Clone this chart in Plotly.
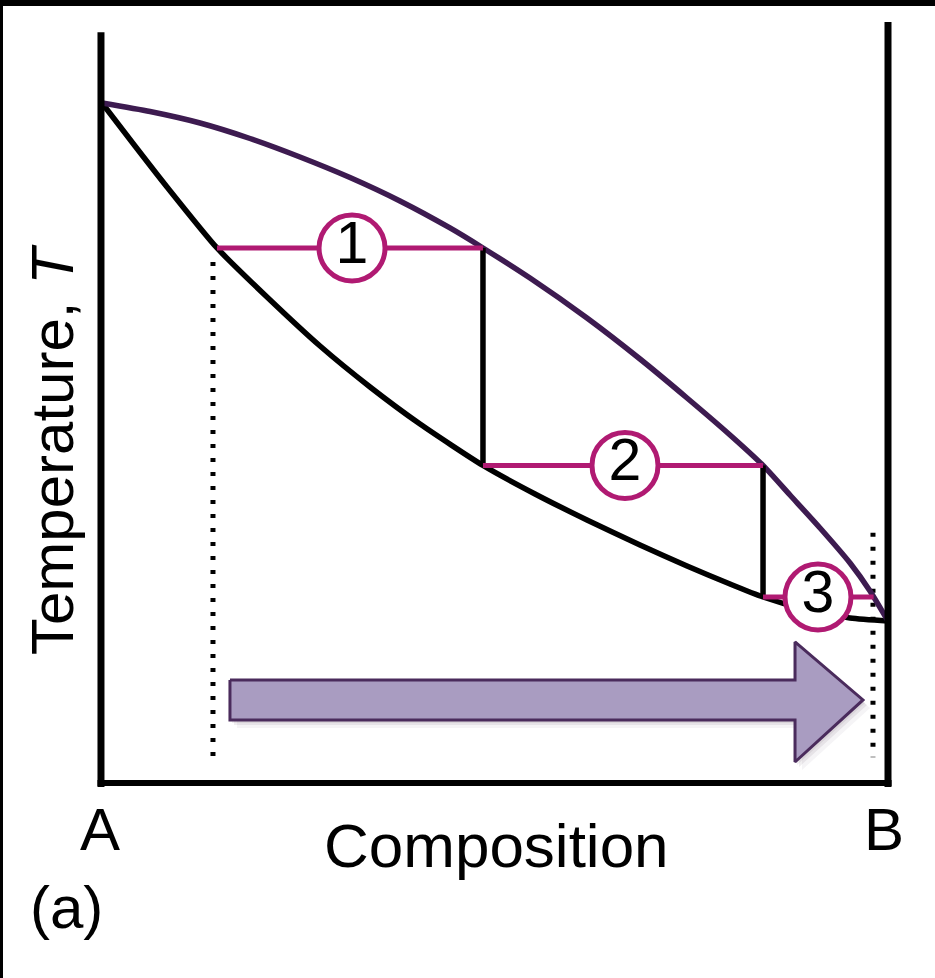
import plotly.graph_objects as go

# ---- data (composition in % B: A=0 .. B=100, temperature in arbitrary units) ----
upper_x = [0.0, 6.11, 12.47, 18.83, 25.19, 31.55, 37.91, 44.27, 48.47, 54.45, 61.70,
           68.45, 74.43, 79.90, 84.10, 87.53, 91.35, 95.17, 97.71, 100.0]
upper_T = [100.0, 98.75, 97.06, 94.78, 92.06, 89.04, 85.59, 81.62, 78.68, 74.26, 68.38,
           62.35, 56.62, 51.18, 46.70, 42.35, 37.50, 32.35, 28.24, 23.82]

lower_x = [0.0, 4.20, 8.27, 14.63, 20.99, 27.74, 34.10, 40.46, 48.47, 55.09, 61.70,
           68.45, 74.43, 79.90, 84.10, 88.80, 95.17, 100.0]
lower_T = [100.0, 93.68, 87.65, 78.68, 71.47, 64.26, 58.24, 52.79, 46.70, 42.50, 38.68,
           35.00, 31.91, 29.26, 27.35, 25.74, 24.26, 23.82]

tie_labels = ["1", "2", "3"]
tie_T = [78.68, 46.70, 27.35]
tie_x0 = [14.63, 48.47, 84.10]
tie_x1 = [48.47, 84.10, 98.17]
tie_circle_x = [31.81, 66.54, 91.09]

step_x = [48.47, 84.10]
step_T0 = [78.68, 46.70]
step_T1 = [46.70, 27.35]

dotted_x = [14.12, 98.09]
dotted_T0 = [76.6, 36.8]
dotted_T1 = [3.1, 3.8]

arrow_x = [16.28, 88.17, 88.17, 96.82, 88.17, 88.17, 16.28, 16.28]
arrow_T = [15.15, 15.15, 20.74, 12.21, 3.09, 9.26, 9.26, 15.15]

axis_top_left = 110.4
axis_top_right = 111.9

x_label = "Composition"
y_label = "Temperature, <i>T</i>"
end_labels = ["A", "B"]
end_label_x = [-0.25, 99.49]
panel_label = "(a)"

# ---- styles ----
PX_X = 7.86    # pixels per composition %
PX_T = 6.8     # pixels per temperature unit
MAGENTA = "#b01a72"
PURPLE = "#3d1b50"
FONT = "Liberation Sans, Arial, sans-serif"

fig = go.Figure()

# arrow shadow
for (dx, dy, a) in [(7, 8, 0.05), (4, 5, 0.08), (2, 3, 0.08)]:
    fig.add_trace(go.Scatter(
        x=[v + dx / PX_X for v in arrow_x], y=[v - dy / PX_T for v in arrow_T],
        mode="lines", fill="toself", fillcolor=f"rgba(60,40,70,{a})",
        line=dict(width=0), hoverinfo="skip", showlegend=False))
# arrow
fig.add_trace(go.Scatter(x=arrow_x, y=arrow_T, mode="lines", fill="toself",
                         fillcolor="#a99cc1", line=dict(color="#4a2b5c", width=3),
                         hoverinfo="skip", showlegend=False))

# dotted guide lines
for xv, t0, t1 in zip(dotted_x, dotted_T0, dotted_T1):
    fig.add_trace(go.Scatter(x=[xv, xv], y=[t0, t1], mode="lines",
                             line=dict(color="black", width=5, dash="4px,10px"),
                             hoverinfo="skip", showlegend=False))

# curves
fig.add_trace(go.Scatter(x=lower_x, y=lower_T, mode="lines",
                         line=dict(color="black", width=5.5, shape="spline", smoothing=0.6),
                         hoverinfo="skip", showlegend=False))
fig.add_trace(go.Scatter(x=upper_x, y=upper_T, mode="lines",
                         line=dict(color=PURPLE, width=5.5, shape="spline", smoothing=0.6),
                         hoverinfo="skip", showlegend=False))

# vertical steps
for xv, t0, t1 in zip(step_x, step_T0, step_T1):
    fig.add_trace(go.Scatter(x=[xv, xv], y=[t0, t1], mode="lines",
                             line=dict(color="black", width=5.5),
                             hoverinfo="skip", showlegend=False))

# tie lines
for t, x0, x1 in zip(tie_T, tie_x0, tie_x1):
    fig.add_trace(go.Scatter(x=[x0, x1], y=[t, t], mode="lines",
                             line=dict(color=MAGENTA, width=5),
                             hoverinfo="skip", showlegend=False))

# numbered circles
fig.add_trace(go.Scatter(x=tie_circle_x, y=tie_T, mode="markers+text",
                         text=tie_labels, textposition="middle center",
                         textfont=dict(family=FONT, size=59, color="black"),
                         marker=dict(size=66, color="white", symbol="circle",
                                     line=dict(color=MAGENTA, width=5)),
                         hoverinfo="skip", showlegend=False))

shapes = [
    # axes frame
    dict(type="line", x0=-0.13, x1=-0.13, y0=axis_top_left, y1=-0.6,
         line=dict(color="black", width=7)),
    dict(type="line", x0=100.0, x1=100.0, y0=axis_top_right, y1=-0.6,
         line=dict(color="black", width=7)),
    dict(type="line", x0=-0.57, x1=100.45, y0=0, y1=0,
         line=dict(color="black", width=6)),
    # photo edges
    dict(type="rect", xref="paper", yref="paper", x0=0, x1=1, y0=1 - 6 / 978, y1=1,
         fillcolor="black", line=dict(width=0)),
    dict(type="rect", xref="paper", yref="paper", x0=0, x1=3 / 935, y0=0, y1=1,
         fillcolor="black", line=dict(width=0)),
]

annotations = [
    dict(x=50.13, y=-9.26, text=x_label, showarrow=False, xanchor="center", yanchor="middle",
         font=dict(family=FONT, size=62, color="black")),
    dict(x=-6.36, y=48.97, text=y_label, showarrow=False, textangle=-90,
         xanchor="center", yanchor="middle", font=dict(family=FONT, size=60, color="black")),
    dict(x=-4.58, y=-18.38, text=panel_label, showarrow=False, xanchor="center", yanchor="middle",
         font=dict(family=FONT, size=60, color="black")),
]
for lab, xv in zip(end_labels, end_label_x):
    annotations.append(dict(x=xv, y=-6.91, text=lab, showarrow=False, xanchor="center",
                            yanchor="middle", font=dict(family=FONT, size=60, color="black")))

fig.update_layout(
    width=935, height=978, margin=dict(l=0, r=0, t=0, b=0, pad=0),
    paper_bgcolor="white", plot_bgcolor="white",
    xaxis=dict(range=[-102 / PX_X, 833 / PX_X], visible=False, fixedrange=True),
    yaxis=dict(range=[(783 - 978) / PX_T, 783 / PX_T], visible=False, fixedrange=True),
    shapes=shapes, annotations=annotations, showlegend=False,
)

fig.write_html("out.html")
